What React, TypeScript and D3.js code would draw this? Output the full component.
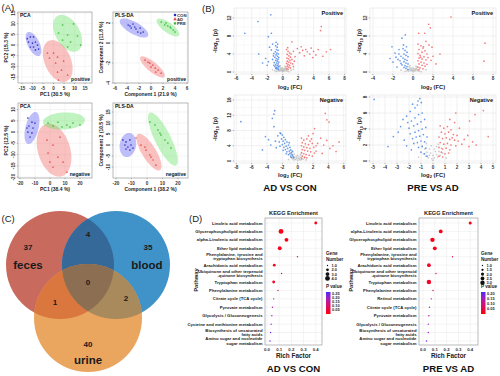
import React from 'react';
import * as d3 from 'd3';

type P = [number, number];

const SANS = '"Liberation Sans", Arial, Helvetica, sans-serif';

// ================= Panel A: PCA / PLS-DA =================
const A_GROUPS = ['CON', 'AD', 'PRE'];

const A1_X_TICKS = [-15, -10, -5, 0, 5, 10, 15];
const A1_Y_TICKS = [-15, -10, -5, 0, 5, 10, 15];
const A1_CON: P[] = [[-11, 3.8], [-9.5, 3.8], [-11.9, 1.4], [-8.6, 1.4], [-10, 0.9], [-7.6, 0], [-9.5, -0.9], [-7.1, -1.9], [-8.6, -2.3], [-11, -0.9], [-12.5, 3.0]];
const A1_AD: P[] = [[-2.9, -3.8], [0, -3.8], [-1.9, -6.1], [1.9, -5.6], [1, -8.5], [4.8, -7.5], [3.8, -11.7], [1.9, -12.7], [6.7, -14.1], [2.4, -16.4]];
const A1_PRE: P[] = [[4.3, 9.4], [9.5, 9.9], [2.4, 5.6], [6.7, 4.7], [11.4, 4.2], [4.3, 2.3], [8.1, 1.4], [12.9, 0], [6.7, -0.9]];
const A1_ELL: [P, P, P][] = [[[-9.5, 0.5], [2.8, -5.5], [2.5, 1.3]], [[2, -7.5], [4.2, -9.5], [5.7, 2.5]], [[6.7, 5.5], [4.8, -8.2], [5, 2.8]]];

const A2_X_TICKS = [-6, -4, -2, 0, 2, 4, 6];
const A2_Y_TICKS = [-4, -2, 0, 2];
const A2_CON: P[] = [[-3.8, 1.8], [-3.0, 1.9], [-3.3, 1.5], [-2.5, 1.4], [-2.2, 1.1], [-1.7, 1.0], [-2.7, 1.6], [-1.8, 1.5], [-1.3, 1.1], [-3.5, 1.7]];
const A2_AD: P[] = [[-1.0, -1.7], [-0.2, -2.0], [0, -2.4], [0.7, -2.5], [1.2, -2.7], [1.7, -3.0], [0.3, -2.2], [0.8, -2.9], [-0.5, -1.9]];
const A2_PRE: P[] = [[1.7, 2.1], [2.5, 2.0], [2.8, 1.7], [3.3, 1.5], [3.7, 1.3], [4.0, 1.1], [2.3, 1.8], [3.2, 1.6]];
const A2_ELL: [P, P, P][] = [[[-2.83, 1.5], [2.33, -0.8], [0.5, 0.52]], [[0.25, -2.4], [2.0, -1.0], [0.53, 0.38]], [[2.83, 1.55], [1.83, -0.8], [0.5, 0.4]]];

const A3_X_TICKS = [-20, -10, 0, 10, 20];
const A3_Y_TICKS = [-20, -15, -10, -5, 0, 5, 10];
const A3_CON: P[] = [[-14.7, 6.2], [-12, 4.4], [-14, 2.7], [-11.3, 1.8], [-14.7, 0], [-12, -0.4], [-13.3, -2.2], [-10, 4], [-15.3, 1.8]];
const A3_AD: P[] = [[-2, -3.6], [2, -5.8], [6.7, -2.2], [-1.3, -9.3], [5.3, -11.1], [8.7, -13.3], [2, -15.6], [11.3, -17.8], [0, -13.3]];
const A3_PRE: P[] = [[-1.3, 4], [5.3, 4.4], [11.3, 3.1], [15.3, 4], [20, 3.1], [8, 2.2], [13.3, 2.2], [2, 2.7]];
const A3_ELL: [P, P, P][] = [[[-12, 1.8], [2.67, 7.1], [4.2, -0.7]], [[2.7, -8], [5.3, -11.6], [10.3, 2.1]], [[9.3, 4.9], [14, 0.44], [0, 3.8]]];

const A4_X_TICKS = [-20, -10, 0, 10, 20];
const A4_Y_TICKS = [-10, -5, 0, 5, 10, 15];
const A4_CON: P[] = [[-15.5, 2.3], [-13.5, 1.4], [-11, 2.3], [-14.2, 0], [-12.3, -0.9], [-10.3, 0], [-13.5, -1.8], [-11, -2.3], [-9, -1.4]];
const A4_AD: P[] = [[-7.1, 3.2], [-3.9, 0], [-0.6, -2.3], [1.9, -4.5], [3.9, -6.8], [5.8, -9.1], [-1.3, -0.9], [2.6, -5.5]];
const A4_PRE: P[] = [[1.9, 10.5], [5.2, 9.1], [7.1, 6.8], [9, 4.5], [11.6, 2.3], [13.5, 0.9], [15.5, -1.4], [8.4, 5.5]];
const A4_ELL: [P, P, P][] = [[[-12.3, 0], [1.3, 5.45], [5.2, -0.6]], [[1.3, -3.2], [7.1, -8.2], [3.9, 1.6]], [[10.3, 2.7], [8.4, -12], [4.6, 1.6]]];

// ================= Panel B: volcano plots =================
const VTL_X_TICKS = [-6, -4, -2, 0, 2, 4, 6, 8];
const VTL_Y_TICKS = [0, 4, 8, 12];
const VTL_DOWN: P[] = [[-1.54, 12.7], [-3.2, 11.2], [-4.9, 8.6], [-1.46, 8.6], [-1.85, 7.85], [-3.1, 4.0], [-2.2, 3.0], [-1.85, 2.3], [-1.46, 4.9], [-1.15, 4.1], [-2.6, 2.0], [-1.7, 5.5], [-1.3, 6.2], [-2.0, 1.5],
  [-0.9, 5.8], [-0.7, 5.5], [-0.8, 5.0], [-0.6, 4.8], [-0.95, 4.5], [-0.75, 4.2], [-0.55, 4.0], [-0.85, 3.8], [-0.65, 3.5], [-1.0, 3.3], [-0.5, 3.2], [-0.8, 3.0], [-0.6, 2.8], [-0.9, 2.6], [-0.7, 2.4], [-0.5, 2.2], [-1.1, 2.1], [-0.8, 2.0], [-0.6, 1.8], [-0.9, 1.6], [-0.7, 1.4], [-0.5, 1.3], [-1.0, 1.2], [-0.8, 1.0], [-0.6, 0.9], [-0.75, 0.7], [-0.55, 0.6], [-0.9, 0.8], [-1.2, 3.6], [-1.3, 2.8], [-1.15, 1.5], [-0.65, 6.2], [-0.85, 6.6]];
const VTL_UP: P[] = [[5.0, 10.1], [4.9, 9.2], [3.7, 5.3], [3.2, 4.5], [4.3, 3.8], [5.65, 4.5], [6.2, 5.0], [2.2, 4.3], [1.6, 3.4], [1.2, 6.7], [2.4, 5.6], [2.8, 3.6], [3.5, 4.0], [4.0, 4.6], [4.6, 5.0], [3.0, 5.0], [2.6, 4.8], [1.9, 5.2], [1.4, 4.6], [5.2, 3.5], [3.9, 3.2],
  [0.5, 5.0], [0.7, 4.6], [0.9, 4.2], [0.6, 3.9], [0.8, 3.6], [1.0, 3.3], [0.55, 3.1], [0.75, 2.9], [0.95, 2.6], [0.6, 2.4], [0.8, 2.2], [1.05, 2.0], [0.5, 1.9], [0.7, 1.7], [0.9, 1.5], [0.6, 1.3], [0.8, 1.1], [1.0, 0.9], [0.55, 0.8], [0.7, 0.6], [1.2, 2.8], [1.3, 1.8], [1.1, 4.0], [1.5, 2.4], [1.4, 1.2], [0.65, 5.4]];
const VTL_NS: P[] = [[-0.4, 1.2], [-0.3, 0.9], [-0.2, 0.6], [-0.1, 0.3], [0, 0.1], [0.1, 0.2], [0.2, 0.5], [0.3, 0.8], [0.4, 1.1], [-0.35, 0.5], [-0.25, 0.3], [0.25, 0.3], [0.35, 0.6], [-0.15, 0.8], [0.15, 0.7], [0.05, 0.5], [-0.05, 0.4], [-0.45, 0.2], [0.45, 0.3], [-0.6, 0.3], [0.6, 0.2], [-0.8, 0.15], [0.8, 0.1], [-0.3, 1.4], [0.3, 1.3], [0, 0.9], [-0.5, 0.5], [0.5, 0.6], [-1.3, 0.5], [1.4, 0.6], [-1.0, 0.3], [1.1, 0.4]];

const VTR_X_TICKS = [-4, -2, 0, 2, 4, 6, 8];
const VTR_Y_TICKS = [0, 4, 8, 12];
const VTR_DOWN: P[] = [[-0.77, 8.25], [-2.1, 5.6], [-1.1, 7.5], [-1.6, 1.1], [-2.3, 3.0], [-1.8, 4.2], [-1.4, 5.0], [-1.2, 3.5], [-2.0, 2.2], [-1.5, 2.8], [-1.7, 3.3],
  [-1.0, 5.2], [-0.8, 4.8], [-0.6, 4.4], [-0.9, 4.0], [-0.7, 3.7], [-0.5, 3.4], [-1.0, 3.1], [-0.8, 2.8], [-0.6, 2.6], [-0.9, 2.3], [-0.7, 2.0], [-0.5, 1.8], [-1.1, 1.6], [-0.8, 1.4], [-0.6, 1.2], [-0.9, 1.0], [-0.7, 0.8], [-0.5, 0.6], [-1.3, 2.5], [-1.2, 1.9], [-0.95, 6.0], [-0.65, 5.6], [-1.4, 4.0]];
const VTR_UP: P[] = [[3.8, 12.2], [1.57, 10.6], [1.73, 9.8], [1.17, 8.6], [0.57, 8.6], [7.2, 6.4], [2.7, 4.0], [7.1, 2.4], [1.9, 5.5], [1.6, 6.0], [1.3, 6.8], [2.0, 3.5], [1.8, 2.6], [2.3, 1.8],
  [0.5, 6.2], [0.8, 5.8], [1.0, 5.3], [0.6, 5.0], [1.2, 4.7], [0.9, 4.4], [0.5, 4.1], [1.4, 4.0], [0.7, 3.7], [1.1, 3.4], [0.6, 3.1], [0.9, 2.9], [1.3, 2.7], [0.5, 2.5], [0.8, 2.2], [1.1, 2.0], [0.6, 1.8], [0.9, 1.5], [1.2, 1.3], [0.5, 1.1], [0.7, 0.9], [1.0, 0.7], [0.6, 0.5], [1.5, 3.2], [1.4, 1.7], [0.75, 3.3], [1.05, 5.6]];
const VTR_NS: P[] = [[-0.4, 1.2], [-0.3, 0.9], [-0.2, 0.6], [-0.1, 0.3], [0, 0.1], [0.1, 0.2], [0.2, 0.5], [0.3, 0.8], [0.4, 1.1], [-0.35, 0.5], [-0.25, 0.3], [0.25, 0.3], [0.35, 0.6], [-0.15, 0.8], [0.15, 0.7], [0.05, 0.5], [-0.05, 0.4], [-0.45, 0.2], [0.45, 0.3], [-0.6, 0.3], [0.6, 0.2], [-0.8, 0.15], [0.8, 0.1], [-0.3, 1.4], [0.3, 1.3], [0, 0.9], [-0.5, 0.5], [0.5, 0.6], [-1.2, 0.4], [1.3, 0.5]];

const VBL_X_TICKS = [-8, -6, -4, -2, 0, 2, 4, 6];
const VBL_Y_TICKS = [0, 4, 8, 12, 16];
const VBL_DOWN: P[] = [[-3.0, 13.2], [-3.1, 12.3], [-3.3, 11.2], [-3.1, 9.0], [-7.4, 10.3], [-4.2, 6.4], [-3.8, 5.6], [-4.6, 2.9], [-3.5, 4.2], [-2.9, 5.2], [-2.6, 6.6], [-2.3, 7.4], [-2.8, 3.5],
  [-2.2, 7.2], [-2.0, 6.8], [-1.8, 6.2], [-2.1, 5.8], [-1.6, 5.6], [-1.9, 5.2], [-1.4, 5.0], [-1.7, 4.6], [-2.0, 4.3], [-1.2, 4.2], [-1.5, 3.9], [-1.8, 3.6], [-1.0, 3.6], [-1.3, 3.3], [-1.6, 3.0], [-0.9, 2.9], [-1.1, 2.6], [-1.4, 2.4], [-0.8, 2.2], [-1.0, 1.9], [-1.2, 1.7], [-0.7, 1.6], [-0.9, 1.3], [-0.6, 1.1], [-0.8, 0.9], [-1.5, 1.9], [-1.9, 2.8], [-2.3, 3.9], [-2.4, 5.0], [-1.1, 4.8], [-0.7, 2.6], [-0.5, 0.8]];
const VBL_UP: P[] = [[3.6, 12.5], [3.8, 10.8], [4.1, 10.2], [2.2, 8.5], [2.0, 7.2], [4.2, 3.3], [5.4, 5.0], [3.4, 4.2], [5.0, 2.5], [3.0, 6.0], [2.6, 4.6], [3.8, 5.4], [4.6, 4.0], [2.4, 2.6], [3.2, 2.0],
  [0.5, 6.0], [0.8, 5.5], [1.2, 5.8], [1.6, 5.2], [0.6, 4.8], [1.0, 4.5], [1.4, 4.3], [1.9, 4.6], [0.5, 4.0], [0.8, 3.7], [1.2, 3.5], [1.6, 3.3], [2.1, 3.6], [0.6, 3.0], [0.9, 2.8], [1.3, 2.6], [1.7, 2.4], [2.2, 2.1], [0.5, 2.2], [0.8, 1.9], [1.1, 1.7], [1.5, 1.5], [1.9, 1.3], [0.6, 1.3], [0.9, 1.0], [1.2, 0.8], [0.5, 0.7], [2.4, 4.0], [1.8, 5.8], [1.4, 6.6]];
const VBL_NS: P[] = [[-1.0, 2.2], [-0.8, 1.8], [-0.6, 1.4], [-0.4, 1.0], [-0.2, 0.6], [0, 0.2], [0.2, 0.5], [0.4, 0.9], [0.6, 1.2], [0.3, 0.3], [-0.3, 0.4], [-0.1, 0.9], [0.1, 0.7], [-0.5, 0.3], [0.5, 0.4], [-0.7, 0.6], [0.7, 0.5], [-0.9, 1.0], [0.9, 0.8], [-0.2, 1.3], [0.2, 1.1], [0, 1.5], [-1.2, 0.4], [1.1, 0.3], [-0.45, 1.8], [0.35, 1.6], [-0.6, 2.4], [0.5, 2.0]];

const VBR_X_TICKS = [-5, -4, -3, -2, -1, 0, 1, 2, 3, 4, 5];
const VBR_Y_TICKS = [0, 2, 4, 6, 8];
const VBR_DOWN: P[] = [[-1.1, 7.8], [-1.25, 7.5], [-0.97, 7.3], [-4.9, 7.7], [-3.75, 1.8], [-3.3, 3.05], [-2.5, 5.2], [-2.2, 5.6], [-1.9, 6.2], [-1.5, 6.65], [-1.3, 7.0], [-2.7, 4.3], [-2.9, 3.6], [-2.4, 2.6], [-1.7, 7.1],
  [-2.1, 4.8], [-1.8, 5.0], [-1.5, 5.4], [-1.2, 5.8], [-0.9, 6.0], [-2.0, 4.1], [-1.6, 4.4], [-1.3, 4.6], [-1.0, 4.9], [-0.7, 5.2], [-1.9, 3.4], [-1.5, 3.6], [-1.2, 3.8], [-0.9, 4.0], [-0.6, 4.2], [-1.7, 2.8], [-1.4, 3.0], [-1.1, 3.1], [-0.8, 3.3], [-0.5, 3.0], [-1.6, 2.2], [-1.3, 2.3], [-1.0, 2.5], [-0.7, 2.4], [-1.2, 1.7], [-0.9, 1.8], [-0.6, 1.6], [-1.0, 1.1], [-0.7, 0.9], [-0.5, 0.6], [-2.2, 1.9], [-1.8, 1.4]];
const VBR_UP: P[] = [[4.2, 6.3], [3.5, 5.8], [3.05, 5.0], [4.6, 3.05], [1.9, 6.0], [1.4, 5.2], [2.2, 4.1], [3.6, 2.0], [3.3, 2.4], [2.9, 3.2], [2.6, 2.7], [2.4, 2.1], [3.0, 1.8], [1.8, 4.8], [2.0, 3.2],
  [0.6, 4.4], [0.9, 4.1], [1.2, 4.3], [1.5, 3.9], [0.7, 3.6], [1.0, 3.4], [1.3, 3.6], [1.7, 3.3], [0.5, 3.0], [0.8, 2.8], [1.1, 2.9], [1.4, 2.7], [1.8, 2.6], [0.6, 2.3], [0.9, 2.1], [1.2, 2.2], [1.5, 2.0], [1.9, 1.9], [0.5, 1.7], [0.8, 1.5], [1.1, 1.6], [1.4, 1.4], [0.7, 1.1], [1.0, 0.9], [1.3, 1.0], [0.5, 0.6], [0.8, 0.5], [1.6, 2.9], [2.1, 2.5]];
const VBR_NS: P[] = [[-0.9, 1.9], [-0.7, 1.5], [-0.5, 1.1], [-0.3, 0.7], [-0.1, 0.3], [0, 0.1], [0.1, 0.4], [0.3, 0.8], [0.5, 1.2], [0.7, 1.6], [-0.4, 0.4], [0.4, 0.5], [-0.2, 1.0], [0.2, 1.2], [0, 0.7], [-0.6, 0.6], [0.6, 0.7], [-0.8, 0.9], [0.8, 1.0], [-0.3, 1.5], [0.3, 1.8], [-1.2, 0.5], [1.1, 0.4], [-0.15, 1.9], [0.1, 1.5], [-0.55, 2.2], [0.45, 2.1]];

// ================= Panel C: Venn =================
const VENN_SETS = ['feces', 'blood', 'urine'];
const VENN_ONLY = [37, 35, 40];
const VENN_FB = 4;
const VENN_FU = 1;
const VENN_BU = 2;
const VENN_ALL = 0;

// ================= Panel D: KEGG enrichment =================
const KEGG_RICH_TICKS = [0.0, 0.1, 0.2, 0.3, 0.4];
const D1_PATHWAYS = ['Linoleic acid metabolism', 'Glycerophospholipid metabolism', 'alpha-Linolenic acid metabolism', 'Ether lipid metabolism', 'Phenylalanine, tyrosine and\ntryptophan biosynthesis', 'Arachidonic acid metabolism', 'Ubiquinone and other terpenoid\n-quinone biosynthesis', 'Tryptophan metabolism', 'Phenylalanine metabolism', 'Citrate cycle (TCA cycle)', 'Pyruvate metabolism', 'Glycolysis / Gluconeogenesis', 'Cysteine and methionine metabolism', 'Biosynthesis of unsaturated\nfatty acids', 'Amino sugar and nucleotide\nsugar metabolism'];
const D1_RICH = [0.4, 0.115, 0.16, 0.105, 0.25, 0.06, 0.12, 0.055, 0.09, 0.055, 0.045, 0.04, 0.035, 0.03, 0.025];
const D1_GENES = [2, 4, 3, 3, 1, 2, 1, 2, 1, 1, 1, 1, 1, 1, 1];
const D1_PVAL = [0.01, 0.01, 0.01, 0.015, 0.09, 0.02, 0.1, 0.02, 0.13, 0.15, 0.17, 0.19, 0.21, 0.23, 0.255];
const D1_GENE_TICKS = [1, 2, 3, 4];
const D1_P_TICKS = [0.25, 0.2, 0.15, 0.1, 0.05];

const D2_PATHWAYS = ['Linoleic acid metabolism', 'alpha-Linolenic acid metabolism', 'Glycerophospholipid metabolism', 'Ether lipid metabolism', 'Phenylalanine, tyrosine and\ntryptophan biosynthesis', 'Arachidonic acid metabolism', 'Ubiquinone and other terpenoid\n-quinone biosynthesis', 'Tryptophan metabolism', 'Phenylalanine metabolism', 'Retinol metabolism', 'Citrate cycle (TCA cycle)', 'Pyruvate metabolism', 'Glycolysis / Gluconeogenesis', 'Biosynthesis of unsaturated\nfatty acids', 'Amino sugar and nucleotide\nsugar metabolism'];
const D2_RICH = [0.4, 0.15, 0.08, 0.1, 0.25, 0.05, 0.11, 0.05, 0.085, 0.07, 0.055, 0.05, 0.045, 0.045, 0.03];
const D2_GENES = [2, 2.5, 3, 2.5, 1, 2.5, 1, 3, 1, 1, 1, 1, 1, 1, 1];
const D2_PVAL = [0.01, 0.01, 0.01, 0.01, 0.07, 0.02, 0.09, 0.02, 0.1, 0.12, 0.13, 0.14, 0.16, 0.17, 0.205];
const D2_GENE_TICKS = [1, 1.5, 2, 2.5, 3];
const D2_P_TICKS = [0.2, 0.15, 0.1, 0.05];

// ================= styles =================
const G_FILL: Record<string, string> = { CON: '#5c5cf2', AD: '#f26464', PRE: '#62e262' };
const G_PT: Record<string, string> = { CON: '#2626c4', AD: '#e04444', PRE: '#34b834' };
const G_SYM: Record<string, any> = { CON: d3.symbolCircle, AD: d3.symbolTriangle, PRE: d3.symbolSquare };

type ScoreProps = {
  id: string; box: number[]; xDom: number[]; yDom: number[]; xTicks: number[]; yTicks: number[];
  xTitle: string; yTitle: string; method: string; mode: string; pts: P[][]; ells: [P, P, P][]; legend?: boolean;
  yTickX: number; yTitleX: number; xTickY: number; xTitleY: number;
};

function ScorePlot(p: ScoreProps) {
  const [x0, y0, x1, y1] = p.box;
  const x = d3.scaleLinear().domain(p.xDom).range([x0, x1]);
  const y = d3.scaleLinear().domain(p.yDom).range([y1, y0]);
  const line = d3.line();
  const ellPath = (e: [P, P, P]) => {
    const [c, u, v] = e;
    const pts: [number, number][] = d3.range(73).map(i => {
      const t = (i / 72) * Math.PI * 2;
      return [x(c[0] + u[0] * Math.cos(t) + v[0] * Math.sin(t)), y(c[1] + u[1] * Math.cos(t) + v[1] * Math.sin(t))];
    });
    return line(pts) + 'Z';
  };
  const fs = 4.6;
  return (
    <g>
      <defs><clipPath id={p.id}><rect x={x0} y={y0} width={x1 - x0} height={y1 - y0} /></clipPath></defs>
      <rect x={x0} y={y0} width={x1 - x0} height={y1 - y0} fill="#fff" />
      {p.xTicks.map(t => <line key={'gx' + t} x1={x(t)} x2={x(t)} y1={y0} y2={y1} stroke="#ebebeb" strokeWidth={0.5} />)}
      {p.yTicks.map(t => <line key={'gy' + t} y1={y(t)} y2={y(t)} x1={x0} x2={x1} stroke="#ebebeb" strokeWidth={0.5} />)}
      <g clipPath={`url(#${p.id})`}>
        {p.ells.map((e, i) => <path key={i} d={ellPath(e)} fill={G_FILL[A_GROUPS[i]]} fillOpacity={0.4} stroke="none" />)}
        {p.pts.map((arr, gi) => arr.map((d, j) => (
          <path key={gi + '-' + j} transform={`translate(${x(d[0])},${y(d[1])})`} d={d3.symbol().type(G_SYM[A_GROUPS[gi]]).size(2.2)() || ''} fill={G_PT[A_GROUPS[gi]]} fillOpacity={0.85} />
        )))}
      </g>
      <rect x={x0} y={y0} width={x1 - x0} height={y1 - y0} fill="none" stroke="#8a8a8a" strokeWidth={0.6} />
      {p.xTicks.map(t => <g key={'tx' + t}>
        <line x1={x(t)} x2={x(t)} y1={y1} y2={y1 + 1.2} stroke="#555" strokeWidth={0.4} />
        <text x={x(t)} y={p.xTickY} fontSize={fs} fontWeight="bold" textAnchor="middle" fill="#333">{t}</text>
      </g>)}
      {p.yTicks.map(t => <g key={'ty' + t}>
        <line x1={x0 - 1.2} x2={x0} y1={y(t)} y2={y(t)} stroke="#555" strokeWidth={0.4} />
        <text transform={`translate(${p.yTickX},${y(t)}) rotate(-90)`} fontSize={fs} fontWeight="bold" textAnchor="middle" fill="#333">{t}</text>
      </g>)}
      <text x={(x0 + x1) / 2} y={p.xTitleY} fontSize={5} fontWeight="bold" textAnchor="middle" fill="#222">{p.xTitle}</text>
      <text transform={`translate(${p.yTitleX},${(y0 + y1) / 2}) rotate(-90)`} fontSize={5} fontWeight="bold" textAnchor="middle" fill="#222">{p.yTitle}</text>
      <text x={x0 + 2} y={y0 + 5} fontSize={5} fontWeight="bold" fill="#111">{p.method}</text>
      <text x={x1 - 2} y={y1 - 2.5} fontSize={5} fontWeight="bold" textAnchor="end" fill="#111">{p.mode}</text>
      {p.legend && A_GROUPS.map((g, i) => (
        <g key={g}>
          <path transform={`translate(${x1 - 13},${y0 + 3 + i * 4.2})`} d={d3.symbol().type(G_SYM[g]).size(5)() || ''} fill={G_PT[g]} />
          <text x={x1 - 11} y={y0 + 4.7 + i * 4.2} fontSize={4.3} fontWeight="bold" fill="#333">{g}</text>
        </g>
      ))}
    </g>
  );
}

type VolProps = {
  box: number[]; xDom: number[]; yDom: number[]; xTicks: number[]; yTicks: number[]; mode: string;
  down: P[]; up: P[]; ns: P[]; yTitleX: number; xTickY: number; xTitleY: number;
};

function Volcano(p: VolProps) {
  const [x0, y0, x1, y1] = p.box;
  const x = d3.scaleLinear().domain(p.xDom).range([x0, x1]);
  const y = d3.scaleLinear().domain(p.yDom).range([y1, y0]);
  const xMinor = d3.pairs(p.xTicks).map(([a, b]) => (a + b) / 2);
  const yMinor = d3.pairs(p.yTicks).map(([a, b]) => (a + b) / 2);
  const fs = 4.6;
  const dot = (d: P, i: number, col: string, op: number) => <circle key={col + i} cx={x(d[0])} cy={y(d[1])} r={0.85} fill={col} fillOpacity={op} />;
  return (
    <g>
      <rect x={x0} y={y0} width={x1 - x0} height={y1 - y0} fill="#fff" />
      {xMinor.map(t => <line key={'mx' + t} x1={x(t)} x2={x(t)} y1={y0} y2={y1} stroke="#f3f3f3" strokeWidth={0.4} />)}
      {yMinor.map(t => <line key={'my' + t} y1={y(t)} y2={y(t)} x1={x0} x2={x1} stroke="#f3f3f3" strokeWidth={0.4} />)}
      {p.xTicks.map(t => <line key={'gx' + t} x1={x(t)} x2={x(t)} y1={y0} y2={y1} stroke="#e6e6e6" strokeWidth={0.55} />)}
      {p.yTicks.map(t => <line key={'gy' + t} y1={y(t)} y2={y(t)} x1={x0} x2={x1} stroke="#e6e6e6" strokeWidth={0.55} />)}
      {p.ns.map((d, i) => dot(d, i, '#b8b8b8', 0.75))}
      {p.down.map((d, i) => dot(d, i, '#3d7fe6', 0.8))}
      {p.up.map((d, i) => dot(d, i, '#f25a5a', 0.8))}
      <rect x={x0} y={y0} width={x1 - x0} height={y1 - y0} fill="none" stroke="#dcdcdc" strokeWidth={0.5} />
      <text x={x1 - 3} y={y0 + 7} fontSize={5.6} fontWeight="bold" textAnchor="end" fill="#111">{p.mode}</text>
      {p.xTicks.map(t => <g key={'tx' + t}>
        <line x1={x(t)} x2={x(t)} y1={y1} y2={y1 + 1.3} stroke="#444" strokeWidth={0.4} />
        <text x={x(t)} y={p.xTickY} fontSize={fs} fontWeight="bold" textAnchor="middle" fill="#333">{t}</text>
      </g>)}
      {p.yTicks.map(t => <g key={'ty' + t}>
        <line x1={x0 - 1.3} x2={x0} y1={y(t)} y2={y(t)} stroke="#444" strokeWidth={0.4} />
        <text transform={`translate(${x0 - 3},${y(t)}) rotate(-90)`} fontSize={fs} fontWeight="bold" textAnchor="middle" fill="#333">{t}</text>
      </g>)}
      <text x={(x0 + x1) / 2} y={p.xTitleY} fontSize={5.8} fontWeight="bold" textAnchor="middle" fill="#222">
        log<tspan dy={1.5} fontSize={4}>2</tspan><tspan dy={-1.5}> (FC)</tspan>
      </text>
      <text transform={`translate(${p.yTitleX},${(y0 + y1) / 2}) rotate(-90)`} fontSize={5.8} fontWeight="bold" textAnchor="middle" fill="#222">
        -log<tspan dy={1.5} fontSize={4}>10</tspan><tspan dy={-1.5}> (p)</tspan>
      </text>
    </g>
  );
}

function Venn() {
  const r = 54;
  const C = [[60, 265], [116, 265], [88, 318]];
  const ONLY_COL = ['#c96a5f', '#3f93c9', '#eaa55f'];
  const circ = (i: number, fill: string, key?: string) => <circle key={key} cx={C[i][0]} cy={C[i][1]} r={r} fill={fill} />;
  return (
    <g>
      <defs>
        {C.map((c, i) => <clipPath key={i} id={'vc' + i}><circle cx={c[0]} cy={c[1]} r={r} /></clipPath>)}
      </defs>
      {circ(0, ONLY_COL[0], 'a')}
      {circ(1, ONLY_COL[1], 'b')}
      {circ(2, ONLY_COL[2], 'c')}
      <g clipPath="url(#vc0)">{circ(1, '#35699a')}</g>
      <g clipPath="url(#vc0)">{circ(2, '#d9773f')}</g>
      <g clipPath="url(#vc1)">{circ(2, '#a88a5c')}</g>
      <g clipPath="url(#vc0)"><g clipPath="url(#vc1)">{circ(2, '#8c6f52')}</g></g>
      <g fontWeight="bold" fill="#1a1a1a" textAnchor="middle">
        <text x={C[0][0] - 32} y={C[0][1] - 15} fontSize={8}>{VENN_ONLY[0]}</text>
        <text x={C[1][0] + 32} y={C[1][1] - 15} fontSize={8}>{VENN_ONLY[1]}</text>
        <text x={C[2][0]} y={C[2][1] + 29} fontSize={8}>{VENN_ONLY[2]}</text>
        <text x={(C[0][0] + C[1][0]) / 2} y={C[0][1] - 28} fontSize={8}>{VENN_FB}</text>
        <text x={C[0][0] - 5} y={C[2][1] - 13} fontSize={8}>{VENN_FU}</text>
        <text x={C[1][0] + 10} y={C[2][1] - 17} fontSize={8}>{VENN_BU}</text>
        <text x={C[2][0]} y={C[0][1] + 20} fontSize={8}>{VENN_ALL}</text>
        <text x={C[0][0] - 32} y={C[0][1] + 4} fontSize={11.5}>{VENN_SETS[0]}</text>
        <text x={C[1][0] + 31} y={C[1][1] + 4} fontSize={11.5}>{VENN_SETS[1]}</text>
        <text x={C[2][0]} y={C[2][1] + 46} fontSize={11.5}>{VENN_SETS[2]}</text>
      </g>
    </g>
  );
}

type KeggProps = {
  id: string; box: number[]; xDom: number[]; paths: string[]; rich: number[]; genes: number[]; pvals: number[];
  geneTicks: number[]; pTicks: number[]; pDom: number[]; sizeRange: number[]; pathwayX: number; legX: number; comp: string;
};

function Kegg(p: KeggProps) {
  const [x0, y0, x1, y1] = p.box;
  const x = d3.scaleLinear().domain(p.xDom).range([x0, x1]);
  const y = d3.scalePoint().domain(p.paths).range([y0 + 5, y1 - 4]);
  const size = d3.scaleSqrt().domain([p.geneTicks[0], p.geneTicks[p.geneTicks.length - 1]]).range(p.sizeRange);
  const col = d3.scaleLinear<string>().domain(p.pDom).range(['#ff0000', '#3b2cff']).interpolate(d3.interpolateLab);
  const order = d3.range(p.paths.length);
  const cx = (x0 + x1) / 2;
  const barTop = 292, barBot = 314;
  const pY = d3.scaleLinear().domain(p.pDom).range([barBot, barTop]);
  const stops = d3.range(11).map(i => p.pDom[0] + (p.pDom[1] - p.pDom[0]) * i / 10);
  const lfs = 4.25;
  return (
    <g>
      <defs>
        <linearGradient id={p.id} x1="0" y1="1" x2="0" y2="0">
          {stops.map((s, i) => <stop key={i} offset={i / 10} stopColor={col(s)} />)}
        </linearGradient>
      </defs>
      <text x={cx} y={y0 - 3} fontSize={5.6} fontWeight="bold" textAnchor="middle" fill="#222">KEGG Enrichment</text>
      <rect x={x0} y={y0} width={x1 - x0} height={y1 - y0} fill="#fff" />
      {KEGG_RICH_TICKS.map(t => <line key={'gx' + t} x1={x(t)} x2={x(t)} y1={y0} y2={y1} stroke="#e8e8e8" strokeWidth={0.5} />)}
      {p.paths.map(n => <line key={'gy' + n} x1={x0} x2={x1} y1={y(n)} y2={y(n)} stroke="#e8e8e8" strokeWidth={0.5} />)}
      {order.map(i => <circle key={i} cx={x(p.rich[i])} cy={y(p.paths[i])} r={size(p.genes[i])} fill={col(p.pvals[i])} />)}
      <rect x={x0} y={y0} width={x1 - x0} height={y1 - y0} fill="none" stroke="#8c8c8c" strokeWidth={0.6} />
      {p.paths.map(n => {
        const lines = n.split('\n');
        return <text key={n} x={x0 - 2.5} y={(y(n) || 0) + 1.5 - (lines.length - 1) * 2.2} fontSize={lfs} fontWeight="bold" textAnchor="end" fill="#222">
          {lines.map((l, k) => <tspan key={k} x={x0 - 2.5} dy={k === 0 ? 0 : 4.4}>{l}</tspan>)}
        </text>;
      })}
      {KEGG_RICH_TICKS.map(t => <text key={'tx' + t} x={x(t)} y={y1 + 5.5} fontSize={4.3} fontWeight="bold" textAnchor="middle" fill="#333">{t.toFixed(1)}</text>)}
      <text x={cx} y={y1 + 12.5} fontSize={6.4} fontWeight="bold" textAnchor="middle" fill="#222">Rich Factor</text>
      <text transform={`translate(${p.pathwayX},280) rotate(-90)`} fontSize={5.8} fontWeight="bold" textAnchor="middle" fill="#222">Pathway</text>
      <text x={cx} y={y1 + 27} fontSize={9.6} fontWeight="bold" textAnchor="middle" fill="#111">{p.comp}</text>
      <text x={p.legX} y={255} fontSize={4.6} fontWeight="bold" fill="#222">Gene</text>
      <text x={p.legX} y={260.5} fontSize={4.6} fontWeight="bold" fill="#222">Number</text>
      {p.geneTicks.map((g, i) => <g key={'g' + g}>
        <circle cx={p.legX + 1.5} cy={265.5 + i * 4.3} r={size(g)} fill="#111" />
        <text x={p.legX + 5.5} y={267 + i * 4.3} fontSize={3.9} fontWeight="bold" fill="#222">{g.toFixed(1)}</text>
      </g>)}
      <text x={p.legX} y={288} fontSize={4.6} fontWeight="bold" fill="#222">P value</text>
      <rect x={p.legX} y={barTop} width={4.5} height={barBot - barTop} fill={`url(#${p.id})`} />
      {p.pTicks.map(t => <text key={'p' + t} x={p.legX + 6} y={pY(t) + 1.4} fontSize={3.9} fontWeight="bold" fill="#222">{t.toFixed(2)}</text>)}
    </g>
  );
}

export default function App() {
  return (
    <svg width={500} height={376} style={{ position: 'absolute', left: 0, top: 0 }} fontFamily={SANS}>
      <rect width={500} height={376} fill="#fff" />
      <text x={1.5} y={11} fontSize={9.5} fill="#222">(A)</text>
      <text x={202} y={12} fontSize={9.5} fill="#222">(B)</text>
      <text x={1.5} y={222} fontSize={9.5} fill="#222">(C)</text>
      <text x={189} y={222} fontSize={9.5} fill="#222">(D)</text>

      <ScorePlot id="a1" box={[18, 12, 92, 83]} xDom={[-16.9, 18.3]} yDom={[-17.8, 15.5]} xTicks={A1_X_TICKS} yTicks={A1_Y_TICKS}
        xTitle="PC1 (30.5 %)" yTitle="PC2 (15.3 %)" method="PCA" mode="positive" pts={[A1_CON, A1_AD, A1_PRE]} ells={A1_ELL}
        yTickX={14.5} yTitleX={8} xTickY={89.5} xTitleY={95.5} />
      <ScorePlot id="a2" box={[113, 12, 188, 83]} xDom={[-6.33, 6.17]} yDom={[-4.0, 3.1]} xTicks={A2_X_TICKS} yTicks={A2_Y_TICKS}
        xTitle="Component 1 (21.9 %)" yTitle="Component 2 (11.8 %)" method="PLS-DA" mode="positive" pts={[A2_CON, A2_AD, A2_PRE]} ells={A2_ELL} legend
        yTickX={109.5} yTitleX={103} xTickY={89.5} xTitleY={95.5} />
      <ScorePlot id="a3" box={[18, 103, 92, 178]} xDom={[-21.3, 28]} yDom={[-20.4, 12.9]} xTicks={A3_X_TICKS} yTicks={A3_Y_TICKS}
        xTitle="PC1 (38.4 %)" yTitle="PC2 (12.5 %)" method="PCA" mode="negative" pts={[A3_CON, A3_AD, A3_PRE]} ells={A3_ELL}
        yTickX={14.5} yTitleX={8} xTickY={184.5} xTitleY={191} />
      <ScorePlot id="a4" box={[113, 103, 188, 178]} xDom={[-21.9, 26.5]} yDom={[-15, 19.1]} xTicks={A4_X_TICKS} yTicks={A4_Y_TICKS}
        xTitle="Component 1 (38.2 %)" yTitle="Component 2 (10.5 %)" method="PLS-DA" mode="negative" pts={[A4_CON, A4_AD, A4_PRE]} ells={A4_ELL}
        yTickX={109.5} yTitleX={103} xTickY={184.5} xTitleY={191} />

      <Volcano box={[234, 8, 346, 74]} xDom={[-6.3, 8.2]} yDom={[-0.44, 14.2]} xTicks={VTL_X_TICKS} yTicks={VTL_Y_TICKS} mode="Positive"
        down={VTL_DOWN} up={VTL_UP} ns={VTL_NS} yTitleX={217} xTickY={79.5} xTitleY={88.5} />
      <Volcano box={[370, 8, 496, 74]} xDom={[-4.3, 8.3]} yDom={[-0.44, 14.2]} xTicks={VTR_X_TICKS} yTicks={VTR_Y_TICKS} mode="Positive"
        down={VTR_DOWN} up={VTR_UP} ns={VTR_NS} yTitleX={361} xTickY={79.5} xTitleY={88.5} />
      <Volcano box={[234, 95, 346, 163]} xDom={[-8.3, 6.3]} yDom={[-0.52, 17.3]} xTicks={VBL_X_TICKS} yTicks={VBL_Y_TICKS} mode="Negative"
        down={VBL_DOWN} up={VBL_UP} ns={VBL_NS} yTitleX={217} xTickY={168.5} xTitleY={176.5} />
      <Volcano box={[370, 95, 496, 163]} xDom={[-5.25, 5.25]} yDom={[-0.25, 8.25]} xTicks={VBR_X_TICKS} yTicks={VBR_Y_TICKS} mode="Negative"
        down={VBR_DOWN} up={VBR_UP} ns={VBR_NS} yTitleX={361} xTickY={168.5} xTitleY={176.5} />
      <text x={290} y={191} fontSize={9.6} fontWeight="bold" textAnchor="middle" fill="#111">AD VS CON</text>
      <text x={433} y={191} fontSize={9.6} fontWeight="bold" textAnchor="middle" fill="#111">PRE VS AD</text>

      <Venn />

      <Kegg id="d1" box={[265, 218, 322, 345]} xDom={[-0.016, 0.451]} paths={D1_PATHWAYS} rich={D1_RICH} genes={D1_GENES} pvals={D1_PVAL}
        geneTicks={D1_GENE_TICKS} pTicks={D1_P_TICKS} pDom={[0.0, 0.27]} sizeRange={[0.7, 2.4]} pathwayX={198} legX={326} comp="AD VS CON" />
      <Kegg id="d2" box={[419, 218, 478, 345]} xDom={[-0.034, 0.466]} paths={D2_PATHWAYS} rich={D2_RICH} genes={D2_GENES} pvals={D2_PVAL}
        geneTicks={D2_GENE_TICKS} pTicks={D2_P_TICKS} pDom={[0.0, 0.22]} sizeRange={[0.7, 2.2]} pathwayX={353} legX={481} comp="PRE VS AD" />
    </svg>
  );
}
